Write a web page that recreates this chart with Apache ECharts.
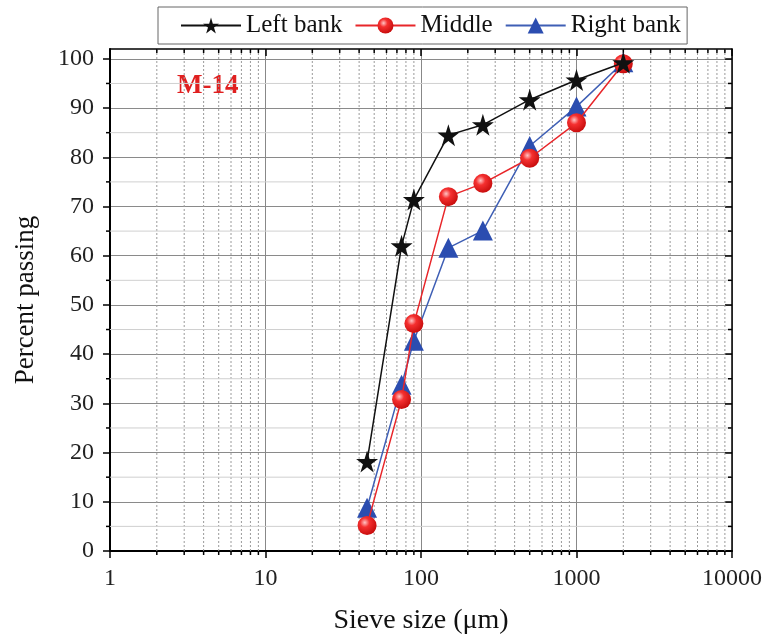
<!DOCTYPE html>
<html>
<head>
<meta charset="utf-8">
<script src="https://cdn.jsdelivr.net/npm/echarts@6/dist/echarts.min.js"></script>
<style>
  html, body { margin: 0; padding: 0; background: #fff; }
  #chart { width: 767px; height: 636px; }
</style>
</head>
<body>
<div id="chart"></div>
<script>
// sieve sizes (µm) and percent passing per sampling point
const sieveSizes = [45, 75, 90, 150, 250, 500, 1000, 2000];
const leftBank  = [18.2, 62.0, 71.4, 84.5, 86.6, 91.7, 95.7, 99.2];
const middle    = [5.2, 30.8, 46.2, 72.0, 74.7, 79.8, 87.0, 99.0];
const rightBank = [8.8, 33.8, 42.7, 61.6, 65.1, 82.3, 90.3, 99.3];

// axis ticks
const yTicks = [0, 10, 20, 30, 40, 50, 60, 70, 80, 90, 100];
const yMinorTicks = [5, 15, 25, 35, 45, 55, 65, 75, 85, 95];
const xMinorTicks = [2, 3, 4, 5, 6, 7, 8, 9,
  20, 30, 40, 50, 60, 70, 80, 90,
  200, 300, 400, 500, 600, 700, 800, 900,
  2000, 3000, 4000, 5000, 6000, 7000, 8000, 9000];

const FONT = '"Liberation Serif", "Times New Roman", serif';
const X_MIN = 1, X_MAX = 10000, Y_MIN = 0, Y_MAX = 102;

const chart = echarts.init(document.getElementById('chart'));

const toPairs = vals => sieveSizes.map((s, i) => [s, vals[i]]);

// minor vertical dotted grid lines + ticks on bottom/top
const renderXMinor = (params, api) => {
  const x = api.value(0);
  const p0 = api.coord([x, Y_MIN]);
  const p1 = api.coord([x, Y_MAX]);
  return {
    type: 'group',
    children: [
      { type: 'line', shape: { x1: p0[0], y1: p0[1], x2: p1[0], y2: p1[1] },
        style: { stroke: '#9a9a9a', lineWidth: 1, lineDash: [2, 2] } },
      { type: 'line', shape: { x1: p0[0], y1: p0[1], x2: p0[0], y2: p0[1] + 4 },
        style: { stroke: '#000', lineWidth: 1.5 } },
      { type: 'line', shape: { x1: p1[0], y1: p1[1], x2: p1[0], y2: p1[1] + 4 },
        style: { stroke: '#000', lineWidth: 1.5 } }
    ]
  };
};

// minor horizontal grid lines + ticks on left/right
const renderYMinor = (params, api) => {
  const y = api.value(1);
  const p0 = api.coord([X_MIN, y]);
  const p1 = api.coord([X_MAX, y]);
  return {
    type: 'group',
    children: [
      { type: 'line', shape: { x1: p0[0], y1: p0[1], x2: p1[0], y2: p1[1] },
        style: { stroke: '#d0d0d0', lineWidth: 1 } },
      { type: 'line', shape: { x1: p0[0], y1: p0[1], x2: p0[0] - 4, y2: p0[1] },
        style: { stroke: '#000', lineWidth: 1.5 } },
      { type: 'line', shape: { x1: p1[0], y1: p1[1], x2: p1[0] - 4, y2: p1[1] },
        style: { stroke: '#000', lineWidth: 1.5 } }
    ]
  };
};

const starPath = 'path://M50,0 L61,35 L98,35 L68,57 L79,91 L50,70 L21,91 L32,57 L2,35 L39,35 Z';

const option = {
  animation: false,
  backgroundColor: '#fff',
  textStyle: { fontFamily: FONT },
  grid: { left: 110, right: 35, top: 49, bottom: 85, outerBoundsMode: 'none', containLabel: false },
  legend: {
    data: ['Left bank', 'Middle', 'Right bank'],
    left: 158,
    top: 7,
    padding: [6, 6, 6, 22],
    itemGap: 12,
    itemWidth: 60,
    itemHeight: 20,
    borderColor: '#666',
    borderWidth: 1,
    backgroundColor: '#fff',
    textStyle: { fontFamily: FONT, fontSize: 25, color: '#111' }
  },
  graphic: [{
    type: 'text',
    left: 177,
    top: 73,
    style: { text: 'M-14', fontFamily: FONT, fontSize: 27, fontWeight: 'bold', fill: '#e02020' }
  }],
  xAxis: [{
    type: 'log',
    logBase: 10,
    min: X_MIN,
    max: X_MAX,
    position: 'bottom',
    name: 'Sieve size (\u03bcm)',
    nameLocation: 'middle',
    nameGap: 56,
    nameTextStyle: { fontFamily: FONT, fontSize: 28, color: '#111' },
    axisLine: { show: true, onZero: false, lineStyle: { color: '#000', width: 2 } },
    axisTick: { show: true, inside: false, length: 7, lineStyle: { color: '#000', width: 1.5 } },
    axisLabel: { fontFamily: FONT, fontSize: 24, color: '#222', margin: 16, formatter: v => String(v) },
    splitLine: { show: true, lineStyle: { color: '#888', width: 1 } }
  }, {
    type: 'log',
    logBase: 10,
    min: X_MIN,
    max: X_MAX,
    position: 'top',
    axisLine: { show: true, onZero: false, lineStyle: { color: '#000', width: 1.5 } },
    axisTick: { show: true, inside: true, length: 7, lineStyle: { color: '#000', width: 1.5 } },
    axisLabel: { show: false },
    splitLine: { show: false }
  }],
  yAxis: [{
    type: 'value',
    min: Y_MIN,
    max: Y_MAX,
    interval: 10,
    position: 'left',
    name: 'Percent passing',
    nameLocation: 'middle',
    nameGap: 71,
    nameTextStyle: { fontFamily: FONT, fontSize: 27, color: '#111' },
    axisLine: { show: true, onZero: false, lineStyle: { color: '#000', width: 2 } },
    axisTick: { show: true, inside: false, length: 7, customValues: yTicks, lineStyle: { color: '#000', width: 1.5 } },
    axisLabel: { fontFamily: FONT, fontSize: 24, color: '#222', margin: 16, customValues: yTicks },
    splitLine: { show: true, lineStyle: { color: '#8a8a8a', width: 1 } }
  }, {
    type: 'value',
    min: Y_MIN,
    max: Y_MAX,
    interval: 10,
    position: 'right',
    axisLine: { show: true, onZero: false, lineStyle: { color: '#000', width: 1.5 } },
    axisTick: { show: true, inside: true, length: 7, customValues: yTicks, lineStyle: { color: '#000', width: 1.5 } },
    axisLabel: { show: false },
    splitLine: { show: false }
  }],
  series: [{
    type: 'custom',
    name: 'xminor',
    silent: true,
    z: 1,
    xAxisIndex: 0,
    yAxisIndex: 0,
    renderItem: renderXMinor,
    data: xMinorTicks.map(v => [v, Y_MIN])
  }, {
    type: 'custom',
    name: 'yminor',
    silent: true,
    z: 1,
    xAxisIndex: 0,
    yAxisIndex: 0,
    renderItem: renderYMinor,
    data: yMinorTicks.map(v => [X_MIN, v])
  }, {
    name: 'Left bank',
    type: 'line',
    z: 5,
    data: toPairs(leftBank),
    symbol: starPath,
    symbolSize: 22,
    lineStyle: { color: '#111', width: 1.5 },
    itemStyle: { color: '#111' }
  }, {
    name: 'Middle',
    type: 'line',
    z: 4,
    data: toPairs(middle),
    symbol: 'circle',
    symbolSize: 19,
    lineStyle: { color: '#e8262a', width: 1.5 },
    itemStyle: {
      color: {
        type: 'radial', x: 0.38, y: 0.35, r: 0.7,
        colorStops: [
          { offset: 0, color: '#ffc4c4' },
          { offset: 0.35, color: '#f53030' },
          { offset: 1, color: '#c40a0a' }
        ]
      }
    }
  }, {
    name: 'Right bank',
    type: 'line',
    z: 3,
    data: toPairs(rightBank),
    symbol: 'triangle',
    symbolSize: 20,
    lineStyle: { color: '#3f5fb5', width: 1.5 },
    itemStyle: { color: '#2b4db0' }
  }]
};

chart.setOption(option);
</script>
</body>
</html>
